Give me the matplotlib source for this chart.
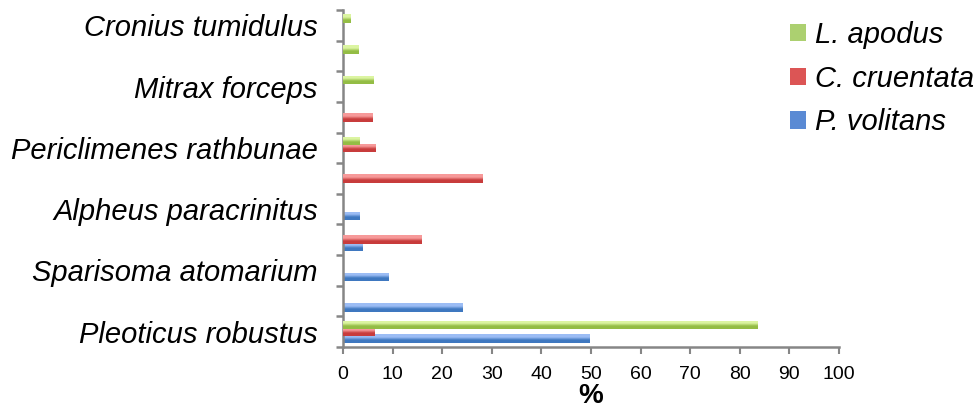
import numpy as np
import matplotlib
matplotlib.use("Agg")
import matplotlib.pyplot as plt
from matplotlib.colors import LinearSegmentedColormap
from matplotlib.patches import Patch

# Prey categories from bottom to top; only every other one carries a visible label
categories = ["Pleoticus robustus", "", "Sparisoma atomarium", "",
              "Alpheus paracrinitus", "", "Periclimenes rathbunae", "",
              "Mitrax forceps", "", "Cronius tumidulus"]

# Percentage of each predator's diet (same order as categories)
p_volitans = [49.6, 24.0, 9.1, 4.0, 3.4, 0, 0, 0, 0, 0, 0]
c_cruentata = [6.3, 0, 0, 15.9, 0, 28.2, 6.5, 5.9, 0, 0, 0]
l_apodus = [83.5, 0, 0, 0, 0, 0, 3.4, 0, 6.1, 3.2, 1.6]

series_names = ["P. volitans", "C. cruentata", "L. apodus"]
x_ticks = list(range(0, 101, 10))

# (light top, dark bottom) gradient colours per series
gradients = {
    "P. volitans": ("#9cbdf5", "#3f78c0"),
    "C. cruentata": ("#f79a9a", "#c83c3c"),
    "L. apodus": ("#dcf5a2", "#94bd45"),
}
legend_colors = {"P. volitans": "#5a8ad4", "C. cruentata": "#dc5555", "L. apodus": "#acd070"}

plt.rcParams["font.family"] = ["Liberation Sans", "DejaVu Sans"]

fig = plt.figure(figsize=(9.78, 4.08), dpi=100)
ax = fig.add_axes([343 / 978, 1 - 347 / 408, (839 - 343) / 978, (347 - 10) / 408])

y = np.arange(len(categories))
offsets = [-0.22, 0.0, 0.22]
bar_h = 0.28
grad = np.linspace(0, 1, 64).reshape(-1, 1)

for k, (name, vals) in enumerate(zip(series_names, [p_volitans, c_cruentata, l_apodus])):
    light, dark = gradients[name]
    cmap = LinearSegmentedColormap.from_list(name, [dark, dark, light, light])
    bars = ax.barh(y + offsets[k], vals, height=bar_h, color=dark, zorder=2 + k,
                   linewidth=0)
    for patch, v in zip(bars, vals):
        if v <= 0:
            continue
        x0, y0 = patch.get_x(), patch.get_y()
        w, h = patch.get_width(), patch.get_height()
        im = ax.imshow(grad, cmap=cmap, aspect="auto", origin="lower",
                       extent=(x0, x0 + w, y0, y0 + h), zorder=2 + k,
                       interpolation="bilinear")
        im.set_clip_path(patch)

ax.set_xlim(0, 100)
ax.set_ylim(-0.5, len(categories) - 0.5)
ax.set_aspect("auto")

# Axes styling
for side in ("top", "right"):
    ax.spines[side].set_visible(False)
for side in ("left", "bottom"):
    ax.spines[side].set_color("#868686")
    ax.spines[side].set_linewidth(1.8)

ax.set_xticks(x_ticks)
ax.set_xticklabels([str(t) for t in x_ticks], fontsize=14)
ax.tick_params(axis="x", direction="out", length=5, width=1.5, color="#868686", pad=9)

shown = [i for i, c in enumerate(categories) if c]
ax.set_yticks(shown)
ax.set_yticklabels([categories[i] for i in shown], fontsize=21, style="italic")
ax.tick_params(axis="y", which="major", length=0, pad=18)
ax.set_yticks(np.arange(-0.5, len(categories)), minor=True)
ax.tick_params(axis="y", which="minor", direction="out", length=5, width=1.8, color="#868686")

ax.set_xlabel("%", fontsize=20, fontweight="bold", labelpad=0)

handles = [Patch(facecolor=legend_colors[n], edgecolor="none") for n in reversed(series_names)]
labels = list(reversed(series_names))
leg = fig.legend(handles, labels, loc="upper left", bbox_to_anchor=(790 / 978, 1 - 21 / 408),
                 frameon=False, prop={"size": 21, "style": "italic"},
                 handlelength=0.55, handleheight=0.55, handletextpad=0.3,
                 labelspacing=0.54, borderaxespad=0, borderpad=0)

fig.savefig("out.png", dpi=100)
